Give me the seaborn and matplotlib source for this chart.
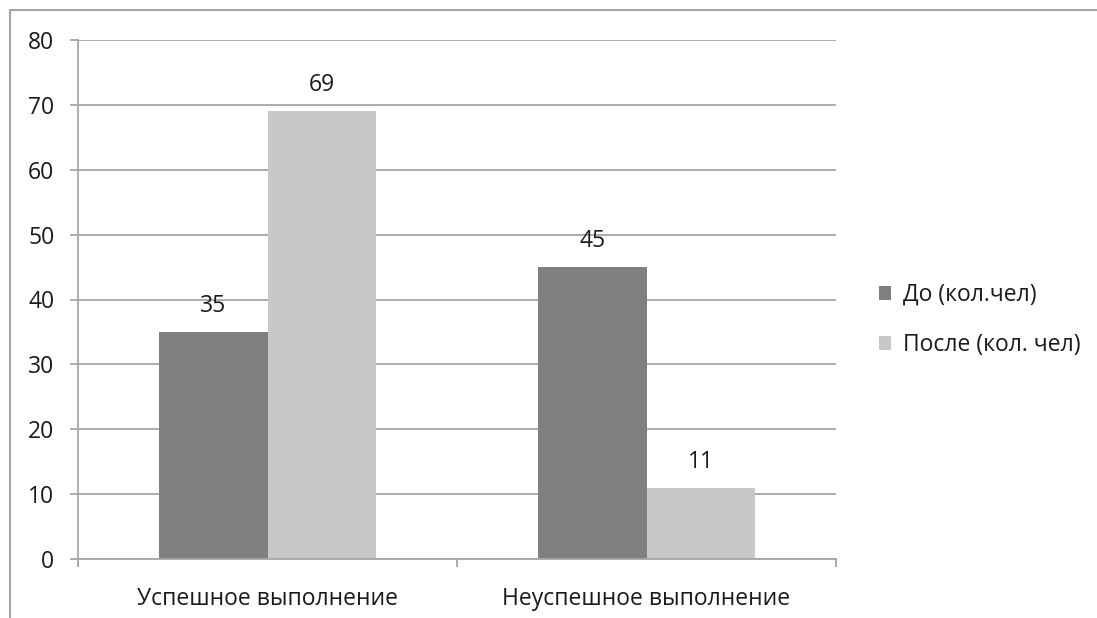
import matplotlib
matplotlib.use("Agg")
import matplotlib.pyplot as plt
import seaborn as sns
import pandas as pd
from matplotlib.patches import Rectangle

categories = ["Успешное выполнение", "Неуспешное выполнение"]
series_names = ["До (кол.чел)", "После (кол. чел)"]
before_vals = [35, 45]
after_vals = [69, 11]
y_ticks = [0, 10, 20, 30, 40, 50, 60, 70, 80]

df = pd.DataFrame({
    "cat": categories * 2,
    "series": [series_names[0]] * 2 + [series_names[1]] * 2,
    "value": before_vals + after_vals,
})

sns.set_theme(style="white")
plt.rcParams["font.family"] = ["Open Sans", "DejaVu Sans"]

FS = 16.5
fig = plt.figure(figsize=(10.97, 6.18), dpi=100)
ax = fig.add_axes([78 / 1097, 1 - 559 / 618, (836 - 78) / 1097, (559 - 40) / 618])

colors = ["#808082", "#c7c8ca"]
sns.barplot(data=df, x="cat", y="value", hue="series", hue_order=series_names,
            order=categories, palette=colors, width=0.57, saturation=1,
            linewidth=0, ax=ax, legend=True)

for c in ax.containers:
    ax.bar_label(c, padding=10, fontsize=FS, color="#1a1a1a")

ax.set_ylim(0, 80)
ax.set_xlim(-0.5, 1.5)
ax.set_yticks(y_ticks)
ax.set_xlabel("")
ax.set_ylabel("")
ax.yaxis.grid(True, color="#a6a6a6", linewidth=1.3)
ax.set_axisbelow(True)
for s in ["top", "right"]:
    ax.spines[s].set_visible(False)
for s in ["left", "bottom"]:
    ax.spines[s].set_color("#a6a6a6")
    ax.spines[s].set_linewidth(1.3)

ax.tick_params(axis="y", which="major", length=6, width=1.3, color="#a6a6a6",
               labelsize=FS, labelcolor="#1a1a1a", pad=11, left=True)
ax.tick_params(axis="x", which="major", length=0, labelsize=FS,
               labelcolor="#1a1a1a", pad=20)
ax.set_xticks([-0.5, 0.5, 1.5], minor=True)
ax.tick_params(axis="x", which="minor", length=6, width=1.3, color="#a6a6a6",
               bottom=True)

leg = ax.legend(loc="center left", bbox_to_anchor=(858 / 1097, 1 - 320 / 618),
                bbox_transform=fig.transFigure, frameon=False, fontsize=FS,
                handlelength=0.55, handleheight=0.55, handletextpad=0.5,
                labelspacing=1.15, labelcolor="#1a1a1a")

fig.patches.append(Rectangle((10 / 1097, -0.1), 1.2, 1 - 10 / 618 + 0.1,
                             transform=fig.transFigure, fill=False,
                             edgecolor="#a6a6a6", linewidth=1.5))

fig.savefig("out.png", dpi=100)
